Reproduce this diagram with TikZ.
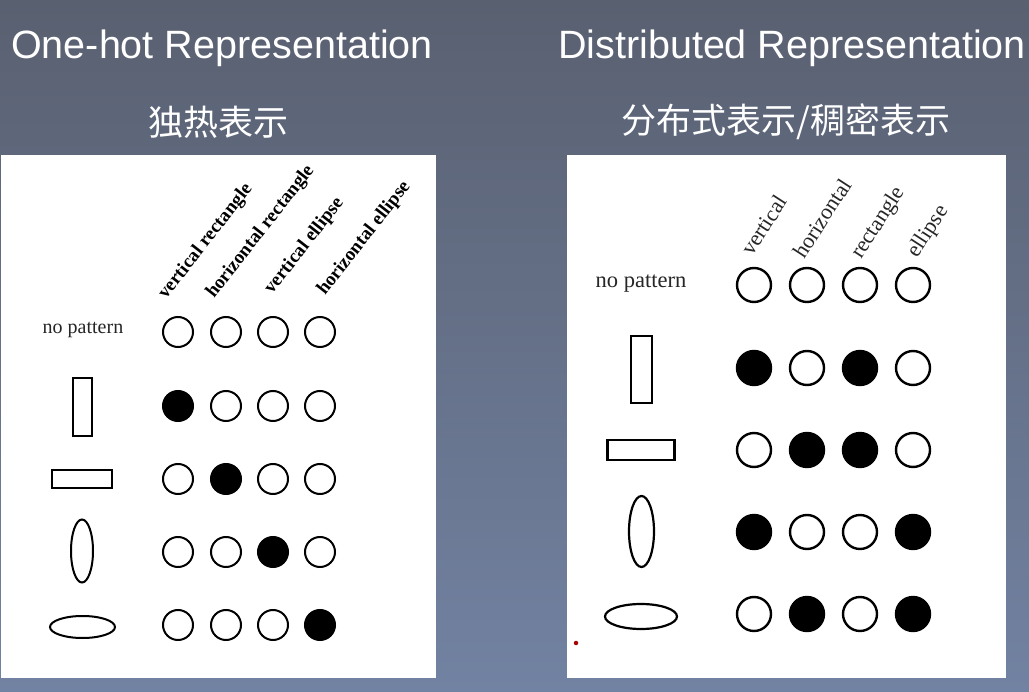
\documentclass[tikz,border=0pt]{standalone}
\usepackage{fontspec}
\setmainfont{Liberation Serif}
\newfontfamily\titlefont{Liberation Sans}
\newfontfamily\cjk{Noto Sans CJK SC}
\usetikzlibrary{shapes.geometric}
\definecolor{bgtop}{HTML}{596070}
\definecolor{bgbot}{HTML}{7282A2}
\begin{document}
\begin{tikzpicture}[x=1pt,y=-1pt,
  panel/.style={fill=white,draw=none,inner sep=0pt,anchor=north west},
  title/.style={text=white,font=\titlefont\fontsize{39.5}{41}\selectfont,inner sep=0pt,anchor=base},
  subtitle/.style={text=white,font=\cjk\fontsize{35}{38}\selectfont,inner sep=0pt},
  unitL/.style={circle,draw=black,line width=2pt,inner sep=0pt,minimum size=30pt},
  unitR/.style={circle,draw=black,line width=2.4pt,inner sep=0pt,minimum size=34pt},
  shp/.style={draw=black,line width=2pt,inner sep=0pt},
  rowlab/.style={inner sep=0pt,text=black!85},
  collabL/.style={font=\bfseries\fontsize{19}{21}\selectfont,rotate=52,anchor=base west,inner sep=0pt},
  collabR/.style={font=\fontsize{22}{24}\selectfont,text=black!85,rotate=57,anchor=base west,inner sep=0pt}
]
\useasboundingbox (0,0) rectangle (1029,692);
\shade[top color=bgtop,bottom color=bgbot] (0,0) rectangle (1029,692);

% titles
\node[title] (t1) at (222,59) {One-hot Representation};
\node[title] (t2) at (792,59) {Distributed Representation};
\node[subtitle] (s1) at (218,122) {独热表示};
\node[subtitle] (s2) at (786,122) {分布式表示/稠密表示};

% panels
\node[panel,minimum width=435pt,minimum height=523pt] (pL) at (1,155) {};
\node[panel,minimum width=439pt,minimum height=523pt] (pR) at (567,155) {};

% ---------- left panel ----------
\node[collabL] (cL1) at (166,300) {vertical rectangle};
\node[collabL] (cL2) at (214,299) {horizontal rectangle};
\node[collabL] (cL3) at (272,295) {vertical ellipse};
\node[collabL] (cL4) at (325,296) {horizontal ellipse};

\node[rowlab,font=\fontsize{20}{22}\selectfont] (rL1) at (83,330) {no pattern};
\node[shp,rectangle,minimum width=19pt,minimum height=58pt] (rL2) at (82.5,407) {};
\node[shp,rectangle,minimum width=60pt,minimum height=18pt] (rL3) at (82,479) {};
\node[shp,ellipse,minimum width=22pt,minimum height=63pt] (rL4) at (82,551) {};
\node[shp,ellipse,minimum width=65pt,minimum height=22pt] (rL5) at (82.5,627) {};

\foreach \r/\y/\a/\b/\c/\d in {1/332/white/white/white/white,
  2/406/black/white/white/white, 3/479/white/black/white/white,
  4/552/white/white/black/white, 5/625/white/white/white/black}{
  \foreach \k/\x/\f in {1/178/\a,2/226/\b,3/273/\c,4/320/\d}{
    \node[unitL,fill=\f] (L\r\k) at (\x,\y) {};
  }
}

% ---------- right panel ----------
\node[collabR] (cR1) at (752,257) {vertical};
\node[collabR] (cR2) at (804,260) {horizontal};
\node[collabR] (cR3) at (861,260) {rectangle};
\node[collabR] (cR4) at (917,259) {ellipse};

\node[rowlab,font=\fontsize{22.5}{24}\selectfont] (rR1) at (641,284) {no pattern};
\node[shp,rectangle,line width=2.2pt,minimum width=21pt,minimum height=67pt] (rR2) at (641.5,369.5) {};
\node[shp,rectangle,line width=2.2pt,minimum width=67pt,minimum height=20pt] (rR3) at (641,450) {};
\node[shp,ellipse,line width=2.2pt,minimum width=25pt,minimum height=71pt] (rR4) at (641.5,531.5) {};
\node[shp,ellipse,line width=2.2pt,minimum width=72pt,minimum height=25pt] (rR5) at (641,616.5) {};

\foreach \r/\y/\a/\b/\c/\d in {1/285/white/white/white/white,
  2/368/black/white/black/white, 3/450/white/black/black/white,
  4/532/black/white/white/black, 5/614/white/black/white/black}{
  \foreach \k/\x/\f in {1/754/\a,2/807/\b,3/860/\c,4/913/\d}{
    \node[unitR,fill=\f] (R\r\k) at (\x,\y) {};
  }
}

\node[circle,fill=red!65!black,inner sep=0pt,minimum size=4.5pt] (dot) at (576,643) {};
\end{tikzpicture}
\end{document}
